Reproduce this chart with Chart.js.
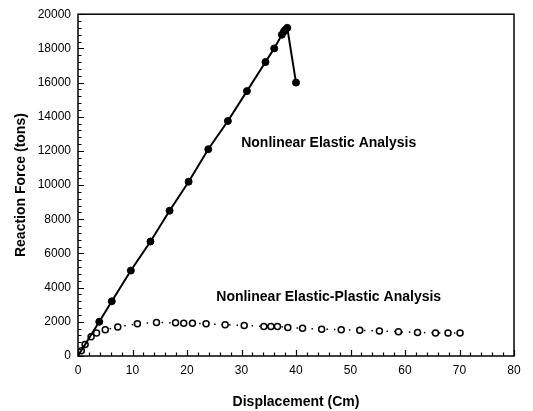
<!DOCTYPE html>
<html><head><meta charset="utf-8">
<script src="https://cdn.jsdelivr.net/npm/chart.js@4/dist/chart.umd.min.js"></script>
<style>html,body{margin:0;padding:0;background:#fff;}#wrap{width:533px;height:411px;}</style>
</head><body><div id="wrap"><canvas id="c" width="533" height="411"></canvas></div>
<script>
const elasticX = [0, 3.9, 6.2, 9.7, 13.3, 16.8, 20.3, 23.9, 27.5, 31.0, 34.4, 36.0, 37.4, 37.8, 38.1, 38.4, 40.0];
const elasticY = [0, 2000, 3200, 5000, 6700, 8500, 10200, 12100, 13750, 15500, 17200, 18000, 18800, 19000, 19100, 19200, 16000];
const plasticX = [0.6, 1.3, 2.4, 3.4, 5.0, 7.3, 10.9, 14.4, 17.9, 19.4, 21.0, 23.5, 27.0, 30.5, 34.1, 35.4, 36.6, 38.5, 41.2, 44.7, 48.3, 51.7, 55.3, 58.8, 62.3, 65.6, 67.9, 70.1];
const plasticY = [310, 670, 1130, 1340, 1540, 1700, 1890, 1960, 1940, 1920, 1920, 1880, 1830, 1790, 1730, 1730, 1730, 1670, 1620, 1570, 1540, 1500, 1460, 1420, 1380, 1350, 1350, 1340];
const xTicks = [0, 10, 20, 30, 40, 50, 60, 70, 80];
const yTicks = [0, 2000, 4000, 6000, 8000, 10000, 12000, 14000, 16000, 18000, 20000];
const xTitle = 'Displacement (Cm)';
const yTitle = 'Reaction Force (tons)';
const labelElastic = 'Nonlinear Elastic Analysis';
const labelPlastic = 'Nonlinear Elastic-Plastic Analysis';

const FONT = "'Liberation Sans', Arial, sans-serif";

const tickPlugin = {
  id: 'innerTicks',
  afterDraw(chart) {
    const ctx = chart.ctx, xs = chart.scales.x, ys = chart.scales.y;
    const a = chart.chartArea;
    ctx.save();
    ctx.strokeStyle = '#000';
    ctx.lineWidth = 1.2;
    ctx.beginPath();
    for (let v = xTicks[0]; v <= xTicks[xTicks.length-1]; v += 2) {
      const px = Math.round(xs.getPixelForValue(v)) + 0.5;
      const len = (v % 10 === 0) ? 6 : 3.5;
      ctx.moveTo(px, a.bottom); ctx.lineTo(px, a.bottom - len);
    }
    for (let v = yTicks[0]; v <= yTicks[yTicks.length-1]; v += 400) {
      const py = Math.round(ys.getPixelForValue(v)) + 0.5;
      const len = (v % 2000 === 0) ? 6 : 3.5;
      ctx.moveTo(a.left, py); ctx.lineTo(a.left + len, py);
    }
    ctx.stroke();
    ctx.lineWidth = 1.5;
    ctx.strokeRect(a.left, a.top, a.right - a.left, a.bottom - a.top);
    ctx.fillStyle = '#000';
    ctx.font = 'bold 14px ' + FONT;
    ctx.textAlign = 'center';
    ctx.textBaseline = 'middle';
    ctx.fillText(labelElastic, xs.getPixelForValue(46), ys.getPixelForValue(12450));
    ctx.fillText(labelPlastic, xs.getPixelForValue(46), ys.getPixelForValue(3460));
    ctx.restore();
  }
};

new Chart(document.getElementById('c'), {
  type: 'scatter',
  data: {
    datasets: [
      {
        data: elasticX.map((x, i) => ({x, y: elasticY[i]})),
        showLine: true,
        borderColor: '#000',
        borderWidth: 2,
        backgroundColor: '#000',
        pointBackgroundColor: '#000',
        pointBorderColor: '#000',
        pointRadius: elasticX.map((x, i) => i === 0 ? 0 : 3.5),
        pointBorderWidth: 1,
        tension: 0
      },
      {
        data: plasticX.map((x, i) => ({x, y: plasticY[i]})),
        showLine: true,
        borderColor: '#000',
        borderWidth: 1.5,
        borderDash: [1.5, 6],
        pointBackgroundColor: '#fff',
        pointBorderColor: '#000',
        pointRadius: 3,
        pointBorderWidth: 1.5,
        tension: 0
      }
    ]
  },
  options: {
    responsive: false,
    animation: false,
    devicePixelRatio: 1,
    layout: { padding: { top: 8, right: 19, left: 0, bottom: 0 } },
    plugins: { legend: { display: false }, tooltip: { enabled: false } },
    scales: {
      x: {
        type: 'linear',
        min: 0, max: 80,
        afterBuildTicks(s) { s.ticks = xTicks.map(v => ({value: v})); },
        afterFit(s) { s.height = 55; },
        grid: { display: false, drawTicks: false },
        border: { display: false },
        ticks: { color: '#000', font: { family: FONT, size: 12 }, padding: 7, maxRotation: 0 },
        title: { display: true, text: xTitle, color: '#000', font: { family: FONT, size: 14, weight: 'bold' }, padding: { top: 4, bottom: 0 } }
      },
      y: {
        type: 'linear',
        min: 0, max: 20000,
        afterBuildTicks(s) { s.ticks = yTicks.map(v => ({value: v})); },
        afterFit(s) { s.width = 78; },
        grid: { display: false, drawTicks: false },
        border: { display: false },
        ticks: { color: '#000', font: { family: FONT, size: 12 }, padding: 7, callback: v => String(v) },
        title: { display: true, text: yTitle, color: '#000', font: { family: FONT, size: 14, weight: 'bold' }, padding: { top: 13, bottom: 0 } }
      }
    }
  },
  plugins: [tickPlugin]
});
</script>
</body></html>
